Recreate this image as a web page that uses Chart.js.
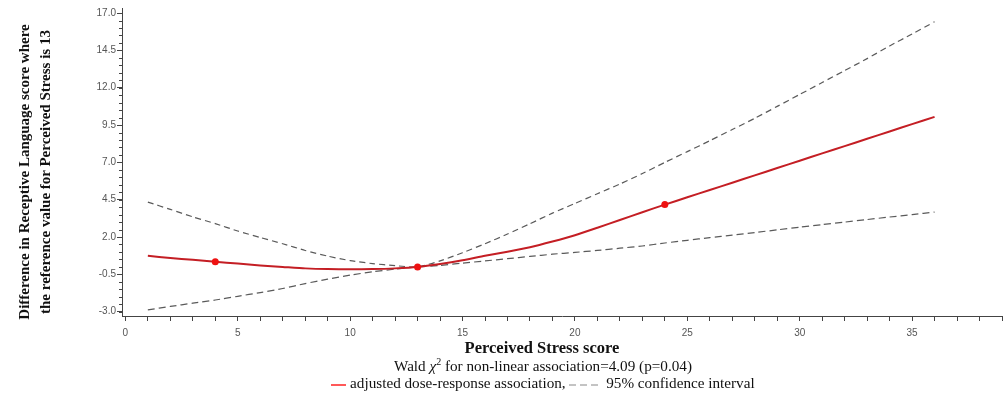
<!DOCTYPE html>
<html>
<head>
<meta charset="utf-8">
<script src="https://cdn.jsdelivr.net/npm/chart.js@4.4.1/dist/chart.umd.min.js"></script>
<style>
  html, body { margin: 0; padding: 0; background: #fff; }
  #wrap { position: relative; width: 1008px; height: 398px; overflow: hidden; }
  #chart { position: absolute; left: 0; top: 0; }
  .txt { position: absolute; white-space: nowrap; font-family: "Liberation Serif", "Times New Roman", serif; color: #111; font-size: 15.2px; text-align: center; }
  #ytitle { left: -125.5px; top: 151px; width: 320px; height: 42px; line-height: 21px; font-size: 15px; font-weight: bold; transform: rotate(-90deg); }
  #xtitle { left: 242px; width: 600px; top: 339px; line-height: 18px; font-size: 16.5px; font-weight: bold; }
  #wald { left: 243px; width: 600px; top: 357px; line-height: 18px; }
  #wald sup { font-size: 10px; line-height: 0; }
  #legend { left: 243px; width: 600px; top: 374px; line-height: 18px; }
  #legend svg { vertical-align: middle; }
</style>
</head>
<body>
<div id="wrap">
  <canvas id="chart" width="1008" height="398"></canvas>
  <div class="txt" id="ytitle">Difference in Receptive Language score where<br>the reference value for Perceived Stress is 13</div>
  <div class="txt" id="xtitle">Perceived Stress score</div>
  <div class="txt" id="wald">Wald <i>&chi;</i><sup>2</sup> for non-linear association=4.09 (p=0.04)</div>
  <div class="txt" id="legend"><svg width="15" height="4" aria-hidden="true"><line x1="0" y1="2" x2="15" y2="2" stroke="#ff2222" stroke-width="1.5"/></svg> adjusted dose-response association, <svg width="33" height="4" aria-hidden="true"><line x1="0" y1="2" x2="33" y2="2" stroke="#888" stroke-width="1" stroke-dasharray="7 4"/></svg> 95% confidence interval</div>
</div>
<script>
// Perceived stress score (x) vs difference in receptive language score, ref = 13
var STRESS = [1, 2, 3, 4, 5, 6, 7, 8, 9, 10, 11, 12, 13, 14, 15, 16, 17, 18,
              19, 20, 21, 22, 23, 24, 25, 26, 27, 28, 29, 30, 31, 32, 33, 34, 35, 36];
var FIT   = [0.74, 0.6, 0.47, 0.34, 0.22, 0.1, 0.0, -0.1, -0.15, -0.16, -0.15, -0.1, 0,
             0.2, 0.45, 0.75, 1.02, 1.32, 1.7, 2.12, 2.62, 3.14, 3.66, 4.17,
             4.66, 5.15, 5.64, 6.13, 6.62, 7.11, 7.6, 8.09, 8.58, 9.07, 9.56, 10.05];
var UPPER = [4.34, 3.85, 3.35, 2.9, 2.4, 1.97, 1.55, 1.1, 0.72, 0.42, 0.22, 0.08, 0,
             0.4, 0.95, 1.55, 2.2, 2.89, 3.6, 4.25, 4.9, 5.55, 6.25, 7.0,
             7.72, 8.45, 9.2, 9.95, 10.75, 11.55, 12.35, 13.15, 13.95, 14.8, 15.6, 16.42];
var LOWER = [-2.88, -2.65, -2.43, -2.22, -1.97, -1.72, -1.45, -1.12, -0.82, -0.55, -0.33, -0.15, 0,
             0.1, 0.25, 0.4, 0.55, 0.7, 0.85, 0.97, 1.1, 1.25, 1.4, 1.6,
             1.78, 1.96, 2.13, 2.3, 2.48, 2.66, 2.83, 3.0, 3.17, 3.34, 3.5, 3.67];
var KNOT_X = [4, 13, 24];
var KNOT_Y = [0.34, 0, 4.17];

var Y_TICKS = [-3.0, -0.5, 2.0, 4.5, 7.0, 9.5, 12.0, 14.5, 17.0];
var Y_MINOR_STEP = 0.5;
var X_TICKS = [0, 1, 2, 3, 4, 5, 6, 7, 8, 9, 10, 11, 12, 13, 14, 15, 16, 17, 18, 19,
               20, 21, 22, 23, 24, 25, 26, 27, 28, 29, 30, 31, 32, 33, 34, 35, 36, 37, 38, 39];

function pts(ys) {
  return STRESS.map(function(x, i) { return { x: x, y: ys[i] }; });
}

// small ticks between the labelled ones on the y axis
var minorTicks = {
  id: 'minorTicks',
  afterDraw: function(chart) {
    var y = chart.scales.y, ctx = chart.ctx;
    var lo = Y_TICKS[0], hi = Y_TICKS[Y_TICKS.length - 1];
    ctx.save();
    ctx.strokeStyle = '#444';
    ctx.lineWidth = 1;
    ctx.beginPath();
    for (var v = lo; v <= hi + 1e-9; v += Y_MINOR_STEP) {
      var p = Math.round(y.getPixelForValue(v)) + 0.5;
      ctx.moveTo(y.right - 3, p);
      ctx.lineTo(y.right, p);
    }
    ctx.stroke();
    ctx.restore();
  }
};

var tickFont = { family: '"Liberation Sans", Arial, sans-serif', size: 10 };

new Chart(document.getElementById('chart'), {
  type: 'line',
  data: {
    datasets: [
      {
        label: 'knots',
        data: KNOT_X.map(function(x, i) { return { x: x, y: KNOT_Y[i] }; }),
        showLine: false,
        pointRadius: 3.5,
        pointBackgroundColor: '#ee1111',
        pointBorderWidth: 0,
        order: 0
      },
      {
        label: 'adjusted dose-response association',
        data: pts(FIT),
        borderColor: '#c41e24',
        borderWidth: 2,
        pointRadius: 0,
        tension: 0.2,
        order: 1
      },
      {
        label: 'upper',
        data: pts(UPPER),
        borderColor: '#5a5a5a',
        borderWidth: 1.2,
        borderDash: [6, 4],
        pointRadius: 0,
        tension: 0.2,
        order: 2
      },
      {
        label: 'lower',
        data: pts(LOWER),
        borderColor: '#5a5a5a',
        borderWidth: 1.2,
        borderDash: [7, 4],
        pointRadius: 0,
        tension: 0.2,
        order: 2
      }
    ]
  },
  options: {
    responsive: false,
    animation: false,
    layout: { padding: { top: 8, right: 3, left: 0, bottom: 0 } },
    plugins: { legend: { display: false }, tooltip: { enabled: false } },
    scales: {
      x: {
        type: 'linear',
        min: -0.15,
        max: 39,
        afterBuildTicks: function(s) { s.ticks = X_TICKS.map(function(v) { return { value: v }; }); },
        afterFit: function(s) { s.height = 82; },
        border: { color: '#444', width: 1 },
        grid: { drawOnChartArea: false, drawTicks: true, tickLength: 5, tickColor: '#444' },
        ticks: {
          autoSkip: false,
          maxRotation: 0,
          padding: 6,
          color: '#555',
          font: tickFont,
          callback: function(v) { return v % 5 === 0 ? String(v) : ''; }
        }
      },
      y: {
        min: -3.29,
        max: 17.34,
        afterBuildTicks: function(s) { s.ticks = Y_TICKS.map(function(v) { return { value: v }; }); },
        afterFit: function(s) { s.width = 122; },
        border: { color: '#444', width: 1 },
        grid: { drawOnChartArea: false, drawTicks: true, tickLength: 5, tickColor: '#444' },
        ticks: {
          padding: 1,
          color: '#555',
          font: tickFont,
          callback: function(v) { return v.toFixed(1); }
        }
      }
    }
  },
  plugins: [minorTicks]
});
</script>
</body>
</html>
